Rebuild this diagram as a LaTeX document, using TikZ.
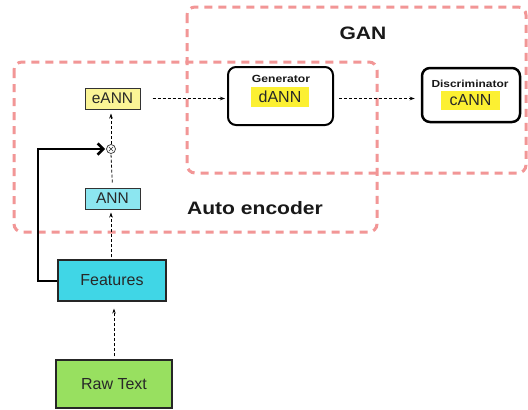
\documentclass[tikz,border=0pt]{standalone}
\usepackage{fontspec}
\setmainfont{Liberation Sans}
\newfontfamily\bst[FakeStretch=1.17]{Liberation Sans}
\usetikzlibrary{arrows.meta}
\definecolor{pinkdash}{RGB}{242,150,150}
\definecolor{paleyellow}{RGB}{250,244,150}
\definecolor{paleCyan}{RGB}{140,230,240}
\definecolor{featcyan}{RGB}{64,214,230}
\definecolor{rawgreen}{RGB}{152,224,96}
\definecolor{hiyellow}{RGB}{252,240,50}
\definecolor{txt}{RGB}{40,40,40}
\tikzset{
  groupbox/.style={draw=pinkdash, line width=3pt, rounded corners=8pt, dash pattern=on 8pt off 6pt},
  smallbox/.style={draw=black!80, line width=1pt, inner sep=0pt, text=txt, font=\fontsize{15.5}{16}\selectfont},
  bigbox/.style={draw=black!85, line width=1.1pt, inner sep=0pt, text=txt, font=\fontsize{16}{17}\selectfont},
  netbox/.style={draw=black, line width=2pt, rounded corners=8pt, fill=white, inner sep=0pt},
  hilite/.style={fill=hiyellow, inner sep=0pt, text=txt, font=\fontsize{16}{17}\selectfont},
  boldlabel/.style={text=black!90, inner sep=0pt},
  flow/.style={draw=black, line width=0.8pt, dash pattern=on 3pt off 2pt, -{Stealth[length=5pt,width=3.5pt]}},
  flowplain/.style={draw=black, line width=0.8pt, dash pattern=on 3pt off 2pt},
  skip/.style={draw=black, line width=2pt, -{Straight Barb[angle=90:8pt, line width=2.6pt]}},
  otimes/.style={circle, draw=black!80, line width=0.7pt, minimum size=9pt, inner sep=0pt,
    path picture={\draw[line width=0.6pt] ([shift={(-2.2pt,-2.2pt)}]path picture bounding box.center) -- ([shift={(2.2pt,2.2pt)}]path picture bounding box.center);
                  \draw[line width=0.6pt] ([shift={(-2.2pt,2.2pt)}]path picture bounding box.center) -- ([shift={(2.2pt,-2.2pt)}]path picture bounding box.center);}}
}
\begin{document}
\begin{tikzpicture}[x=1pt,y=-1pt]
\useasboundingbox (0,0) rectangle (528,410);
\fill[white] (0,0) rectangle (528,410);
% group boxes
\draw[groupbox] (187,7) rectangle (526,173);
\draw[groupbox] (14,62) rectangle (377,232);
\node[boldlabel, font=\bst\bfseries\fontsize{18}{19}\selectfont] (ganlabel) at (363,33) {GAN};
\node[boldlabel, font=\bst\bfseries\fontsize{18}{19}\selectfont] (aelabel) at (255,208) {Auto encoder};
% left column
\node[smallbox, fill=paleyellow, minimum width=55pt, minimum height=21pt] (eann) at (112.5,98.5) {eANN};
\node[smallbox, fill=paleCyan, minimum width=55pt, minimum height=21pt] (ann) at (112.5,198.5) {ANN};
\node[otimes] (ot) at (111,149) {};
\node[bigbox, fill=featcyan, minimum width=108pt, minimum height=41pt] (feat) at (112,280.5) {Features};
\node[bigbox, fill=rawgreen, minimum width=116pt, minimum height=48pt] (raw) at (114,384) {Raw Text};
% GAN nets
\node[netbox, minimum width=105pt, minimum height=58pt] (gen) at (280.5,96) {};
\node[boldlabel, font=\bst\bfseries\fontsize{10.4}{11}\selectfont] (genlabel) at (281,79) {Generator};
\node[hilite, minimum width=58pt, minimum height=20pt] (dann) at (280,97) {dANN};
\node[netbox, line width=2.5pt, minimum width=98pt, minimum height=54pt] (disc) at (471,95) {};
\node[boldlabel, font=\bst\bfseries\fontsize{10.2}{11}\selectfont] (disclabel) at (470,84) {Discriminator};
\node[hilite, minimum width=59pt, minimum height=19pt] (cann) at (470.5,100) {cANN};
% connectors
\draw[flow, shorten <=12pt, shorten >=2pt] (eann.east) -- (eann.east -| gen.west);
\draw[flow, shorten <=5pt, shorten >=6pt] (gen.east |- eann.east) -- (disc.west |- eann.east);
\draw[flowplain, shorten <=5pt] (ann.north) -- (ot.south);
\draw[flow, shorten >=4pt] (ot.north) -- (eann.south -| ot.north);
\draw[flow, shorten <=2pt, shorten >=3pt] (feat.north -| ot.south) -- (ann.south -| ot.south);
\draw[flow, shorten <=3pt, shorten >=7pt] (raw.north) -- (feat.south -| raw.north);
\coordinate (fbc) at (38,149);
\draw[skip, shorten >=1pt] (feat.west) -| (fbc) -- (ot.west);
\end{tikzpicture}
\end{document}
